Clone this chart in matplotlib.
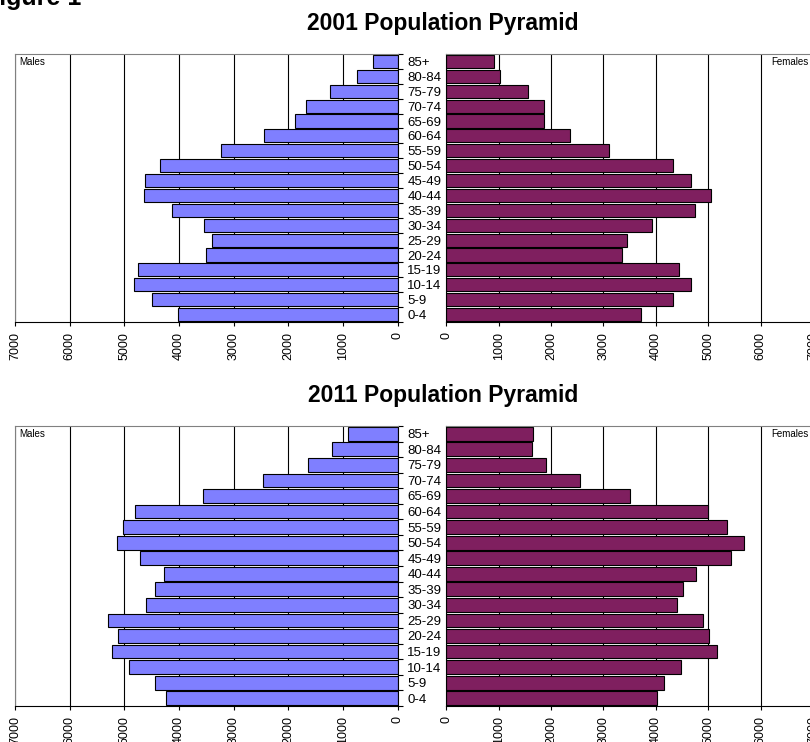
import numpy as np
import matplotlib
matplotlib.use("Agg")
from matplotlib import pyplot as plt

plt.rcParams['font.family'] = ['Liberation Sans', 'DejaVu Sans']

ages = ['0-4', '5-9', '10-14', '15-19', '20-24', '25-29', '30-34', '35-39', '40-44',
        '45-49', '50-54', '55-59', '60-64', '65-69', '70-74', '75-79', '80-84', '85+']

males_2001   = [4020, 4500, 4815, 4755, 3515, 3405, 3545, 4125, 4645,
                4625, 4345, 3230, 2445, 1875, 1670, 1235, 740, 450]
females_2001 = [3710, 4320, 4670, 4435, 3355, 3450, 3920, 4750, 5055,
                4670, 4330, 3100, 2355, 1870, 1870, 1565, 1030, 905]
males_2011   = [4245, 4445, 4920, 5225, 5120, 5295, 4610, 4435, 4280,
                4710, 5140, 5030, 4805, 3565, 2460, 1635, 1195, 905]
females_2011 = [4025, 4155, 4480, 5170, 5020, 4905, 4395, 4510, 4770,
                5440, 5685, 5365, 5000, 3510, 2555, 1895, 1640, 1660]

years = ['2001', '2011']
xticks = [0, 1000, 2000, 3000, 4000, 5000, 6000, 7000]

W, H = 810, 742
male_col = '#7f7fff'
female_col = '#7f1f5f'

fig = plt.figure(figsize=(W / 100, H / 100), dpi=100)

def box(left, top, right, bottom):
    return [left / W, 1 - bottom / H, (right - left) / W, (bottom - top) / H]

def style(ax):
    ax.set_xticks(xticks)
    ax.set_xticklabels([str(t) for t in xticks], rotation=90, fontsize=9)
    ax.tick_params(axis='x', direction='out', length=3, width=0.8, pad=4)
    ax.set_ylim(-0.5, len(ages) - 0.5)
    ax.set_axisbelow(True)
    ax.grid(axis='x', color='black', linewidth=0.8)
    ax.spines['top'].set_color('#808080')
    ax.spines['bottom'].set_color('black')

y = np.arange(len(ages))
tops = [54, 426]
bottoms = [322, 706]
data = [(males_2001, females_2001), (males_2011, females_2011)]

for i in range(2):
    top, bottom = tops[i], bottoms[i]
    m, f = data[i]

    axm = fig.add_axes(box(15, top, 397.7, bottom))
    axm.barh(y, m, height=0.88, color=male_col, edgecolor='black', linewidth=0.8)
    axm.set_xlim(7000, 0)
    style(axm)
    axm.spines['left'].set_color('#808080')
    axm.spines['right'].set_color('black')
    axm.yaxis.tick_right()
    axm.set_yticks(y)
    axm.set_yticklabels(ages, fontsize=9.5)
    axm.tick_params(axis='y', which='major', length=0, pad=7)
    axm.set_yticks(np.arange(len(ages) + 1) - 0.5, minor=True)
    axm.tick_params(axis='y', which='minor', direction='out', length=3.5, width=0.8)

    axf = fig.add_axes(box(446.3, top, 813, bottom))
    axf.barh(y, f, height=0.88, color=female_col, edgecolor='black', linewidth=0.8)
    axf.set_xlim(0, 7000)
    style(axf)
    axf.spines['left'].set_color('black')
    axf.set_yticks([])

    fig.text(19 / W, 1 - (top + 8) / H, 'Males', fontsize=7, va='center', ha='left')
    fig.text(771 / W, 1 - (top + 8) / H, 'Females', fontsize=7, va='center', ha='left')
    fig.text(443 / W, 1 - (top - 24) / H, years[i] + ' Population Pyramid',
             fontsize=16.5, fontweight='bold', ha='center', va='baseline')

fig.text(-16 / W, 1 - 4.7 / H, 'Figure 1', fontsize=18, fontweight='bold',
         ha='left', va='baseline')

fig.savefig('out.png', dpi=100)
